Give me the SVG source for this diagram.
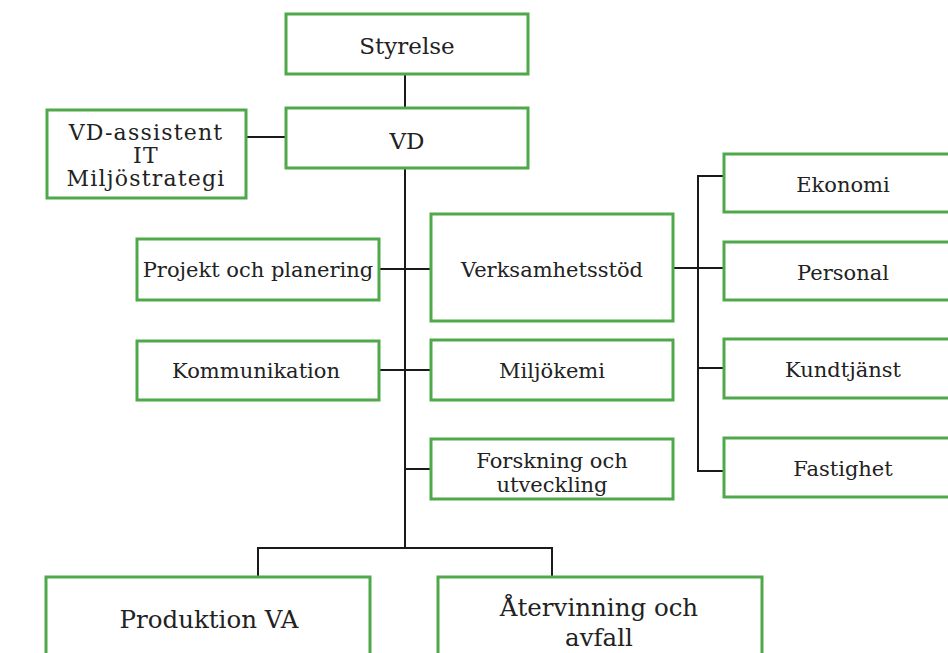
<svg xmlns="http://www.w3.org/2000/svg" width="948" height="653" viewBox="0 0 948 653">
<style>
.box{fill:#fff;stroke:#4fa94a;stroke-width:3}
.ln{stroke:#1a1a1a;stroke-width:2;fill:none}
text{font-family:"DejaVu Serif","Liberation Serif",serif;fill:#222;text-anchor:middle;dominant-baseline:central;font-size:21px}
.big{font-size:23px}
.huge{font-size:24.5px}
.wide{font-size:22px;letter-spacing:1.2px}
</style>
<rect width="948" height="653" fill="#fff"/>
<g id="connectors">
<line class="ln" x1="405" y1="74" x2="405" y2="108"/>
<line class="ln" x1="246" y1="137" x2="286" y2="137"/>
<line class="ln" x1="405" y1="168" x2="405" y2="548"/>
<line class="ln" x1="379" y1="269" x2="431" y2="269"/>
<line class="ln" x1="379" y1="370" x2="431" y2="370"/>
<line class="ln" x1="405" y1="469" x2="431" y2="469"/>
<polyline class="ln" points="258,577 258,548 552,548 552,577"/>
<line class="ln" x1="673" y1="268" x2="724" y2="268"/>
<polyline class="ln" points="724,176 698,176 698,471 724,471"/>
<line class="ln" x1="698" y1="368" x2="724" y2="368"/>
</g>
<g id="styrelse"><rect class="box" x="286" y="14" width="242" height="60"/><text x="407" y="46" class="big">Styrelse</text></g>
<g id="vd"><rect class="box" x="286" y="108" width="242" height="60"/><text x="407" y="141" class="big">VD</text></g>
<g id="vd-assistent"><rect class="box" x="47" y="110" width="199" height="88"/><text x="146" y="132" class="wide">VD-assistent</text><text x="146" y="155" class="wide">IT</text><text x="146" y="178" class="wide">Miljöstrategi</text></g>
<g id="projekt"><rect class="box" x="137" y="239" width="242" height="61"/><text x="258" y="270">Projekt och planering</text></g>
<g id="verksamhetsstod"><rect class="box" x="431" y="214" width="242" height="107"/><text x="552" y="270">Verksamhetsstöd</text></g>
<g id="kommunikation"><rect class="box" x="137" y="341" width="242" height="59"/><text x="256" y="371">Kommunikation</text></g>
<g id="miljokemi"><rect class="box" x="431" y="340" width="242" height="60"/><text x="552" y="371">Miljökemi</text></g>
<g id="forskning"><rect class="box" x="431" y="439" width="242" height="60"/><text x="552" y="461">Forskning och</text><text x="552" y="485">utveckling</text></g>
<g id="ekonomi"><rect class="box" x="724" y="154" width="230" height="58"/><text x="843" y="185">Ekonomi</text></g>
<g id="personal"><rect class="box" x="724" y="242" width="230" height="58"/><text x="843" y="273">Personal</text></g>
<g id="kundtjanst"><rect class="box" x="724" y="339" width="230" height="59"/><text x="843" y="370">Kundtjänst</text></g>
<g id="fastighet"><rect class="box" x="724" y="438" width="230" height="59"/><text x="843" y="469">Fastighet</text></g>
<g id="produktion"><rect class="box" x="46" y="577" width="324" height="90"/><text x="209" y="619" class="huge">Produktion VA</text></g>
<g id="atervinning"><rect class="box" x="438" y="577" width="324" height="90"/><text x="599" y="607" class="huge">Återvinning och</text><text x="599" y="637" class="huge">avfall</text></g>
</svg>
